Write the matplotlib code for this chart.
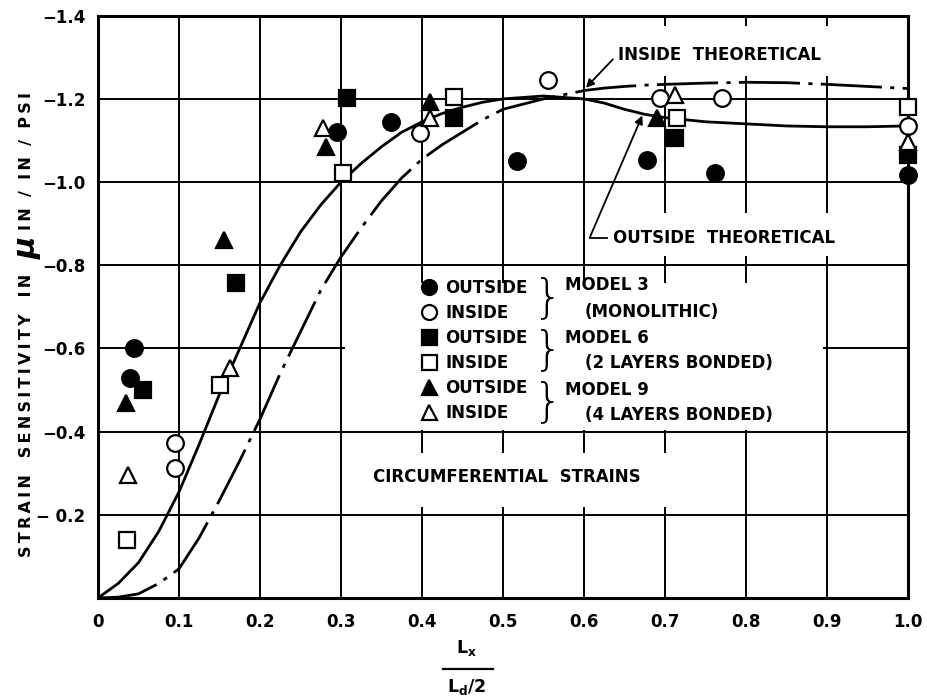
import numpy as np
import matplotlib.pyplot as plt
from matplotlib.lines import Line2D
from matplotlib.patches import Rectangle

plt.rcParams['font.family'] = ['DejaVu Sans']
plt.rcParams['font.weight'] = 'bold'
plt.rcParams['mathtext.default'] = 'bf'

# theoretical curves
x_theory = [0, 0.025, 0.05, 0.075, 0.1, 0.125, 0.15, 0.175, 0.2, 0.225, 0.25, 0.275,
            0.3, 0.325, 0.35, 0.375, 0.4, 0.425, 0.45, 0.475, 0.5, 0.55, 0.6, 0.625,
            0.65, 0.675, 0.7, 0.75, 0.8, 0.85, 0.9, 0.95, 1.0]
outside_theory = [0, -0.035, -0.085, -0.16, -0.255, -0.37, -0.49, -0.60, -0.71, -0.80,
                  -0.88, -0.945, -1.0, -1.045, -1.085, -1.12, -1.145, -1.165, -1.18,
                  -1.192, -1.2, -1.207, -1.2, -1.19, -1.175, -1.163, -1.155, -1.145,
                  -1.14, -1.135, -1.133, -1.133, -1.135]
inside_theory = [0, -0.002, -0.01, -0.035, -0.07, -0.145, -0.235, -0.33, -0.43, -0.54,
                 -0.64, -0.74, -0.82, -0.89, -0.955, -1.01, -1.055, -1.09, -1.12, -1.15,
                 -1.175, -1.2, -1.22, -1.226, -1.23, -1.233, -1.235, -1.238, -1.24,
                 -1.239, -1.235, -1.23, -1.225]

# measured points
m3_out_x = [0.045, 0.04, 0.295, 0.362, 0.517, 0.678, 0.762, 1.0]
m3_out_y = [-0.60, -0.53, -1.12, -1.145, -1.05, -1.053, -1.022, -1.017]
m3_in_x = [0.095, 0.095, 0.398, 0.556, 0.694, 0.77, 1.0]
m3_in_y = [-0.373, -0.313, -1.118, -1.246, -1.202, -1.202, -1.135]
m6_out_x = [0.055, 0.171, 0.308, 0.44, 0.712, 1.0]
m6_out_y = [-0.50, -0.757, -1.202, -1.154, -1.106, -1.065]
m6_in_x = [0.036, 0.151, 0.303, 0.44, 0.715, 1.0]
m6_in_y = [-0.14, -0.512, -1.022, -1.205, -1.154, -1.181]
m9_out_x = [0.035, 0.155, 0.282, 0.41, 0.69]
m9_out_y = [-0.47, -0.861, -1.085, -1.193, -1.155]
m9_in_x = [0.037, 0.163, 0.278, 0.41, 0.712, 1.0]
m9_in_y = [-0.296, -0.553, -1.13, -1.154, -1.21, -1.097]

x_ticks = [0, 0.1, 0.2, 0.3, 0.4, 0.5, 0.6, 0.7, 0.8, 0.9, 1.0]
x_ticklabels = ["0", "0.1", "0.2", "0.3", "0.4", "0.5", "0.6", "0.7", "0.8", "0.9", "1.0"]
y_ticks = [-1.4, -1.2, -1.0, -0.8, -0.6, -0.4, -0.2]
y_ticklabels = ["\u22121.4", "\u22121.2", "\u22121.0", "\u22120.8", "\u22120.6", "\u22120.4", "\u2212 0.2"]


def spaced(s):
    # old drafting lettering is widely spaced
    return "\u2009".join(s)


fig = plt.figure(figsize=(9.28, 6.99), dpi=100)
ax = fig.add_axes([0.1056, 0.1445, 0.8728, 0.833])
ax.set_xlim(0, 1.0)
ax.set_ylim(0, -1.4)
ax.set_xticks(x_ticks)
ax.set_xticklabels(x_ticklabels, fontsize=12, fontweight='bold')
ax.set_yticks(y_ticks)
ax.set_yticklabels(y_ticklabels, fontsize=12, fontweight='bold')
ax.tick_params(axis='x', length=0, pad=11)
ax.tick_params(axis='y', length=0, pad=9)
ax.set_axisbelow(True)
ax.grid(True, color='black', linewidth=1.4)
for s in ax.spines.values():
    s.set_linewidth(2.2)

# white gaps in the grid behind the labels
for (bx, by, bw, bh) in [(0.305, -0.758, 0.59, 0.353),
                          (0.305, -0.349, 0.49, 0.13),
                          (0.63, -1.375, 0.33, 0.12),
                          (0.625, -0.925, 0.345, 0.103)]:
    ax.add_patch(Rectangle((bx, by), bw, bh, facecolor='white', edgecolor='none', zorder=1))

ax.plot(x_theory, outside_theory, color='black', lw=2.0, zorder=3)
ax.plot(x_theory, inside_theory, color='black', lw=2.0, zorder=3,
        linestyle=(0, (22, 3, 1.5, 3)))

ms = 12
mk = dict(linestyle='none', markersize=ms, markeredgecolor='black', markeredgewidth=1.6,
          zorder=4, clip_on=False)
h1, = ax.plot(m3_out_x, m3_out_y, marker='o', markerfacecolor='black', **mk)
h2, = ax.plot(m3_in_x, m3_in_y, marker='o', markerfacecolor='white', **mk)
h3, = ax.plot(m6_out_x, m6_out_y, marker='s', markerfacecolor='black', **mk)
h4, = ax.plot(m6_in_x, m6_in_y, marker='s', markerfacecolor='white', **mk)
h5, = ax.plot(m9_out_x, m9_out_y, marker='^', markerfacecolor='black', **mk)
h6, = ax.plot(m9_in_x, m9_in_y, marker='^', markerfacecolor='white', **mk)

leg = ax.legend([h1, h2, h3, h4, h5, h6],
                ["OUTSIDE", "INSIDE", "OUTSIDE", "INSIDE", "OUTSIDE", "INSIDE"],
                loc='center left', bbox_to_anchor=(0.39, -0.596),
                bbox_transform=ax.transData, frameon=False, borderpad=0,
                handlelength=0.8, handletextpad=0.6, labelspacing=0.42,
                markerscale=0.9, prop={'size': 12, 'weight': 'bold'})
leg.set_zorder(5)

for yc in [-0.7215, -0.596, -0.471]:
    ax.text(0.556, yc, "}", fontsize=34, fontweight='light', ha='center', va='center', zorder=5)
for tx, ty, s in [(0.5765, -0.753, "MODEL 3"), (0.601, -0.688, "(MONOLITHIC)"),
                  (0.5765, -0.625, "MODEL 6"), (0.601, -0.565, "(2 LAYERS BONDED)"),
                  (0.5765, -0.500, "MODEL 9"), (0.601, -0.440, "(4 LAYERS BONDED)")]:
    ax.text(tx, ty, s, fontsize=12, fontweight='bold', ha='left', va='center', zorder=5)

ax.text(0.3395, -0.291, "CIRCUMFERENTIAL  STRAINS", fontsize=12, fontweight='bold',
        ha='left', va='center', zorder=5)

ax.text(0.642, -1.306, "INSIDE  THEORETICAL", fontsize=12, fontweight='bold',
        ha='left', va='center', zorder=5)
ax.annotate("", xy=(0.6, -1.222), xytext=(0.638, -1.30),
            arrowprops=dict(arrowstyle='-|>', color='black', lw=1.3, mutation_scale=12),
            zorder=5)

ax.text(0.636, -0.866, "OUTSIDE  THEORETICAL", fontsize=12, fontweight='bold',
        ha='left', va='center', zorder=5)
ax.plot([0.607, 0.628], [-0.866, -0.866], color='black', lw=1.3, zorder=5)
ax.annotate("", xy=(0.672, -1.16), xytext=(0.607, -0.866),
            arrowprops=dict(arrowstyle='-|>', color='black', lw=1.3, mutation_scale=12,
                            shrinkA=0, shrinkB=0),
            zorder=5)

# y axis label
fig.text(0.029, 0.609, spaced("STRAIN") + "   " + spaced("SENSITIVITY") + "   " + spaced("IN"),
         rotation=90, ha='center', va='top', fontsize=11.5, fontweight='bold')
fig.text(0.029, 0.645, "\u03bc", rotation=90, ha='center', va='center',
         fontsize=22, fontweight='bold', style='italic')
fig.text(0.029, 0.671, spaced("IN") + "  /  " + spaced("IN") + "  /  " + spaced("PSI"),
         rotation=90, ha='center', va='bottom', fontsize=11.5, fontweight='bold')

# x axis label as a fraction
fig.text(0.503, 0.073, "$L_x$", ha='center', va='center', fontsize=12.5)
fig.add_artist(Line2D([0.477, 0.531], [0.043, 0.043], color='black', lw=1.6))
fig.text(0.503, 0.017, "$L_d/2$", ha='center', va='center', fontsize=12.5)

fig.savefig("out.png", dpi=100, facecolor='white')
